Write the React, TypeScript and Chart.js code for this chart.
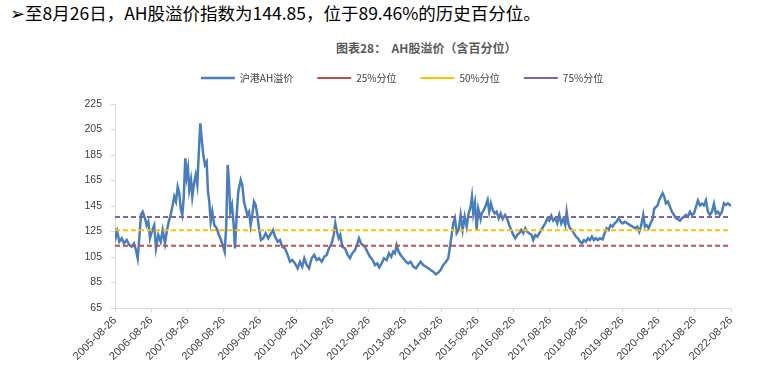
import React, { useEffect, useRef } from 'react';
import { Chart, registerables } from 'chart.js';

Chart.register(...registerables);

const xTickLabels = [
  '2005-08-26', '2006-08-26', '2007-08-26', '2008-08-26', '2009-08-26', '2010-08-26',
  '2011-08-26', '2012-08-26', '2013-08-26', '2014-08-26', '2015-08-26', '2016-08-26',
  '2017-08-26', '2018-08-26', '2019-08-26', '2020-08-26', '2021-08-26', '2022-08-26',
];

// years elapsed since 2005-08-26
const yearOffsets = [
  0.000, 0.028, 0.063, 0.119, 0.185, 0.248, 0.323, 0.395, 0.461, 0.524, 0.579, 0.626, 0.671, 0.717, 0.764, 0.828, 0.875, 0.919, 0.966,
  1.029, 1.084, 1.131, 1.195, 1.261, 1.316, 1.380, 1.427, 1.482, 1.537, 1.592, 1.636, 1.683, 1.730, 1.774, 1.813, 1.857, 1.896, 1.940, 1.978,
  2.014, 2.050, 2.097, 2.133, 2.180, 2.227, 2.271, 2.310, 2.354, 2.401, 2.437, 2.483, 2.530, 2.566, 2.602, 2.641, 2.685, 2.740, 2.806, 2.870, 2.925, 2.988,
  3.027, 3.071, 3.110, 3.146, 3.182, 3.228, 3.275, 3.311, 3.358, 3.402, 3.469, 3.513, 3.560, 3.606, 3.651, 3.698, 3.744, 3.789, 3.836, 3.882, 3.927, 3.974,
  4.029, 4.092, 4.158, 4.230, 4.305, 4.360, 4.415, 4.490, 4.553, 4.617, 4.691, 4.765, 4.829, 4.892, 4.967,
  5.041, 5.105, 5.168, 5.224, 5.290, 5.353, 5.428, 5.499, 5.566, 5.629, 5.704, 5.775, 5.842, 5.905, 5.980,
  6.035, 6.079, 6.126, 6.173, 6.217, 6.272, 6.347, 6.421, 6.485, 6.548, 6.623, 6.678, 6.733, 6.788, 6.835, 6.898, 6.962,
  7.036, 7.111, 7.174, 7.238, 7.293, 7.359, 7.423, 7.497, 7.561, 7.624, 7.679, 7.726, 7.773, 7.828, 7.883, 7.955,
  8.030, 8.093, 8.159, 8.231, 8.306, 8.369, 8.435, 8.507, 8.582, 8.645, 8.711, 8.783, 8.858, 8.921, 8.987,
  9.059, 9.134, 9.197, 9.244, 9.291, 9.335, 9.382, 9.429, 9.484, 9.539, 9.594, 9.650, 9.705, 9.760, 9.815, 9.851, 9.887, 9.934, 9.981,
  10.025, 10.091, 10.119, 10.182, 10.237, 10.284, 10.328, 10.375, 10.422, 10.477, 10.532, 10.588, 10.643, 10.698, 10.762, 10.825, 10.880, 10.935, 10.991,
  11.046, 11.101, 11.156, 11.211, 11.267, 11.322, 11.377, 11.432, 11.498, 11.542, 11.598, 11.653, 11.708, 11.763, 11.818, 11.874, 11.929, 11.984,
  12.039, 12.094, 12.150, 12.205, 12.260, 12.315, 12.370, 12.426, 12.464, 12.508, 12.555, 12.610, 12.666, 12.721, 12.776, 12.831, 12.886, 12.941, 12.997,
  13.052, 13.107, 13.162, 13.217, 13.273, 13.328, 13.383, 13.457, 13.513, 13.568, 13.623, 13.678, 13.733, 13.789, 13.844, 13.899, 13.954,
  14.009, 14.073, 14.136, 14.211, 14.285, 14.349, 14.412, 14.467, 14.523, 14.578, 14.625, 14.672, 14.727, 14.782, 14.837, 14.881, 14.928, 14.975,
  15.019, 15.066, 15.113, 15.157, 15.204, 15.259, 15.315, 15.370, 15.425, 15.480, 15.535, 15.591, 15.646, 15.701, 15.756, 15.811, 15.867, 15.922, 15.977,
  16.032, 16.087, 16.143, 16.198, 16.253, 16.308, 16.363, 16.419, 16.474, 16.529, 16.584, 16.639, 16.695, 16.750, 16.805, 16.860, 16.915, 16.970, 17.000,
];

const premiumValues = [
  127.5, 121, 124.9, 117, 119.7, 115.7, 118.3, 114.4, 113, 115.7, 110.5, 104, 119.7, 138, 140.5, 135.4, 130, 132.7, 119.7,
  126.2, 130, 111.8, 122.3, 117, 126.2, 115.7, 124.8, 132.7, 138, 145.8, 152.3, 148.4, 160.1, 155, 143.2, 138, 151, 182.4, 168,
  174.5, 157.5, 165.4, 152.3, 162.8, 169.3, 161.5, 185, 209.9, 195.4, 185, 177.2, 179.7, 156.2, 148.4, 132.7, 140.5, 130, 127.5, 122.3, 118.3, 113,
  109.2, 130, 177.2, 164, 140.5, 145.8, 130, 111.8, 138, 156.2, 165.4, 161.5, 148.4, 143.2, 138, 140.5, 130, 138, 148.4, 145.8, 138, 127.5,
  118.3, 119.7, 123.6, 119.7, 123.6, 126.2, 121, 117, 118.3, 113, 111.8, 106.6, 101.3, 102.6, 100,
  96.1, 101.3, 97.4, 104, 98.7, 96.1, 104, 106.6, 102.6, 104, 101.3, 105.2, 106.6, 111.8, 115.7,
  122.3, 131.4, 124.8, 119.7, 122.3, 113, 111.8, 106.6, 104, 107.9, 110.5, 114.4, 119.7, 115.7, 114.4, 113, 109.2,
  105.2, 102.6, 98.7, 100, 96.9, 100, 104, 102.6, 107.9, 105.2, 109.2, 107.9, 114.4, 109.2, 106.6, 104,
  101.3, 100, 101.3, 97.4, 96.1, 98.7, 101.3, 98.7, 97.4, 96.1, 94.8, 93.5, 91.4, 92.7, 94.8,
  98.7, 101.3, 104, 113, 122.3, 131.4, 135.4, 123.6, 126.2, 138, 126.2, 136.6, 128.8, 139.2, 144.5, 152.3, 139.2, 147.1, 126.2,
  142.9, 134.8, 139.2, 141.9, 145.8, 149.7, 140.5, 147.1, 141.9, 139.2, 140.5, 135.4, 139.2, 134.8, 138, 134.8, 130, 126.2, 122.3,
  119.7, 122.3, 123.6, 126.2, 123.6, 127.5, 124.8, 123.6, 122.3, 118.3, 122.3, 121, 123.6, 126.2, 128.8, 131.4, 134.8, 133.5,
  137.4, 133.5, 135.4, 131.4, 138, 131.4, 134.8, 130, 140.5, 131.4, 127.5, 126.2, 123.6, 121, 119.7, 117, 115.7, 118.3, 117,
  119.7, 118.3, 121, 118.3, 119.7, 118.3, 119.7, 118.9, 123.6, 127.5, 126.2, 130, 128.8, 131.4, 132.7, 135.4, 132.7,
  131.4, 132.7, 131.4, 130, 128.8, 127.5, 128.8, 124.8, 130, 138, 128.8, 130, 127.5, 131.4, 134.8, 142.9, 144.2, 145.5,
  149.7, 152.3, 155, 152.3, 147.1, 148.4, 144.5, 140.5, 138, 135.4, 134.8, 133.5, 135.4, 136.6, 138, 136.6, 140.5, 138, 139.2,
  144.2, 149.4, 145.5, 146.8, 145.5, 149.4, 140.5, 138, 140.5, 146.8, 139.2, 140.5, 138, 140.5, 147.1, 145.8, 147.1, 145.8, 144.85,
];

const seriesNames = ['沪港AH溢价', '25%分位', '50%分位', '75%分位'];
const percentileValues = [113.9, 126.0, 136.4];
const seriesColors = ['#4a7ebb', '#c0504d', '#ffc000', '#8064a2'];

const headline = '➢至8月26日，AH股溢价指数为144.85，位于89.46%的历史百分位。';
const chartTitle = '图表28：  AH股溢价（含百分位）';

const tickFont = '"Liberation Sans", Arial, sans-serif';
const cjkFont = '"Noto Sans CJK SC", "Liberation Sans", sans-serif';

const LEGEND_TOP = 49;
const PLOT_TOP = 104;

const legendHeightPlugin = {
  id: 'legendHeight',
  beforeLayout(chart: any) {
    const lg: any = chart.legend;
    if (lg && !lg.__fixedFit) {
      const orig = lg.fit.bind(lg);
      lg.fit = function () {
        orig();
        this.height = PLOT_TOP - LEGEND_TOP;
      };
      lg.__fixedFit = true;
    }
  },
};

export default function App() {
  const canvasRef = useRef<HTMLCanvasElement | null>(null);

  useEffect(() => {
    const canvas = canvasRef.current;
    if (!canvas) return;
    const xMax = xTickLabels.length - 1;
    const mainData = yearOffsets.map((x, i) => ({ x, y: premiumValues[i] }));
    const datasets: any[] = [
      {
        label: seriesNames[0],
        data: mainData,
        borderColor: seriesColors[0],
        backgroundColor: seriesColors[0],
        borderWidth: 2.5,
        pointRadius: 0,
        tension: 0,
        order: 4,
      },
    ];
    percentileValues.forEach((v, i) => {
      datasets.push({
        label: seriesNames[i + 1],
        data: [{ x: 0, y: v }, { x: xMax, y: v }],
        borderColor: seriesColors[i + 1],
        backgroundColor: seriesColors[i + 1],
        borderWidth: 2,
        borderDash: [5, 3],
        pointRadius: 0,
        order: 3 - i,
      });
    });

    const chart = new Chart(canvas, {
      type: 'line',
      data: { datasets },
      plugins: [legendHeightPlugin],
      options: {
        animation: false,
        responsive: false,
        devicePixelRatio: 1,
        layout: { padding: { top: LEGEND_TOP, left: 73, right: 33, bottom: 0 } },
        plugins: {
          title: { display: false },
          tooltip: { enabled: false },
          legend: {
            display: true,
            position: 'top',
            labels: {
              usePointStyle: true,
              pointStyle: 'line',
              pointStyleWidth: 34,
              padding: 24,
              color: '#404040',
              font: { family: cjkFont, size: 10 },
              sort: (a: any, b: any) => a.datasetIndex - b.datasetIndex,
            },
          },
        },
        scales: {
          x: {
            type: 'linear',
            min: 0,
            max: xMax,
            afterFit: (s: any) => { s.height = 59; },
            ticks: {
              stepSize: 1,
              autoSkip: false,
              maxRotation: 45,
              minRotation: 45,
              color: '#404040',
              font: { family: tickFont, size: 11 },
              padding: 2,
              callback: (v: any) => xTickLabels[Math.round(Number(v))] ?? '',
            },
            grid: { drawOnChartArea: false, drawTicks: true, tickLength: 4, color: '#d9d9d9' },
            border: { color: '#d9d9d9' },
          },
          y: {
            type: 'linear',
            min: 65,
            max: 225,
            afterFit: (s: any) => { s.width = 42; },
            ticks: {
              stepSize: 20,
              color: '#404040',
              font: { family: tickFont, size: 10.5 },
              padding: 9,
            },
            grid: { drawOnChartArea: false, drawTicks: true, tickLength: 4, color: '#d9d9d9' },
            border: { color: '#d9d9d9' },
          },
        },
      },
    });
    return () => chart.destroy();
  }, []);

  return (
    <div style={{ position: 'absolute', left: 0, top: 0, width: 764, height: 367, background: '#fff', overflow: 'hidden' }}>
      <div style={{ position: 'absolute', left: 10, top: 0, height: 26, lineHeight: '26px', fontSize: 17.5, fontFamily: cjkFont, color: '#000', whiteSpace: 'nowrap' }}>
        {headline}
      </div>
      <div style={{ position: 'absolute', left: 336, top: 40, height: 16, lineHeight: '16px', fontSize: 12, fontWeight: 'bold', fontFamily: cjkFont, color: '#595959', whiteSpace: 'pre' }}>
        {chartTitle}
      </div>
      <canvas ref={canvasRef} width={764} height={367} style={{ position: 'absolute', left: 0, top: 0 }} />
    </div>
  );
}
